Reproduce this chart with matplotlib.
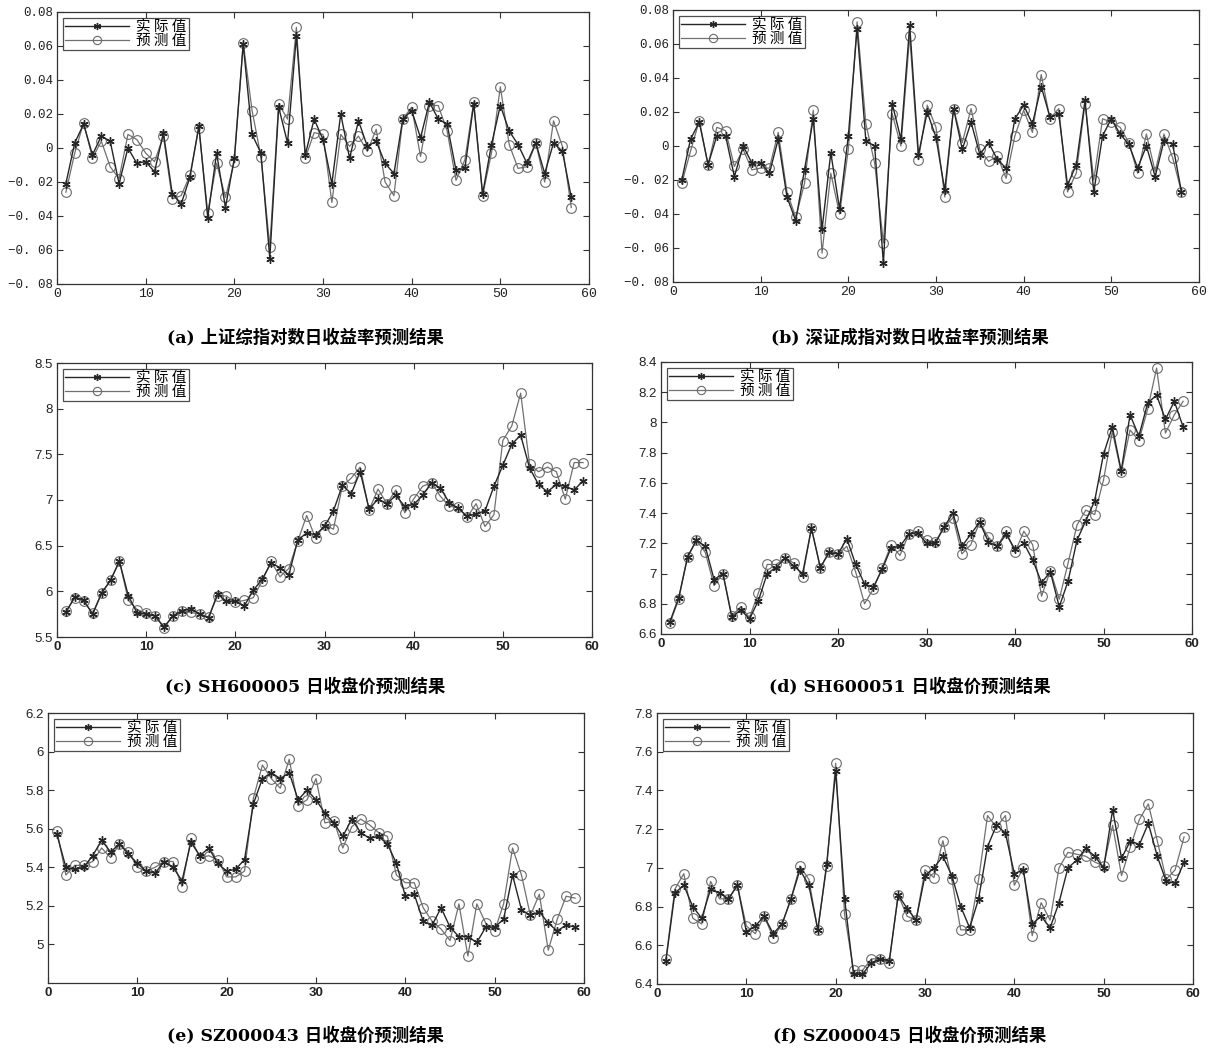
import matplotlib
matplotlib.use("Agg")
import matplotlib.pyplot as plt
import numpy as np

plt.rcParams['font.family'] = ['Liberation Sans', 'Noto Sans CJK SC']

# ---------------- data ----------------
a_actual = [-0.021, 0.003, 0.014, -0.004, 0.007, 0.004, -0.021, 0.000, -0.009, -0.008,
            -0.014, 0.009, -0.027, -0.033, -0.017, 0.013, -0.041, -0.003, -0.035, -0.006,
            0.061, 0.008, -0.003, -0.065, 0.024, 0.003, 0.066, -0.004, 0.017, 0.005,
            -0.021, 0.020, -0.006, 0.016, 0.001, 0.004, -0.009, -0.015, 0.017, 0.022,
            0.006, 0.027, 0.017, 0.014, -0.013, -0.012, 0.026, -0.027, 0.002, 0.025,
            0.010, 0.002, -0.009, 0.003, -0.015, 0.003, -0.002, -0.029]
a_pred = [-0.026, -0.003, 0.015, -0.006, 0.004, -0.011, -0.018, 0.008, 0.005, -0.003,
          -0.008, 0.007, -0.030, -0.028, -0.016, 0.012, -0.038, -0.009, -0.029, -0.008,
          0.062, 0.022, -0.005, -0.058, 0.026, 0.017, 0.071, -0.006, 0.009, 0.008,
          -0.032, 0.008, 0.001, 0.007, -0.002, 0.011, -0.020, -0.028, 0.017, 0.024,
          -0.005, 0.025, 0.025, 0.010, -0.019, -0.007, 0.027, -0.028, -0.003, 0.036,
          0.002, -0.012, -0.011, 0.003, -0.020, 0.016, 0.001, -0.035]

b_actual = [-0.020, 0.004, 0.014, -0.011, 0.006, 0.006, -0.018, 0.000, -0.010, -0.010,
            -0.016, 0.004, -0.030, -0.044, -0.014, 0.016, -0.049, -0.004, -0.037, 0.006,
            0.069, 0.003, 0.000, -0.069, 0.025, 0.004, 0.071, -0.005, 0.020, 0.005,
            -0.026, 0.022, -0.002, 0.014, -0.005, 0.002, -0.008, -0.013, 0.016, 0.024,
            0.013, 0.035, 0.017, 0.019, -0.023, -0.011, 0.027, -0.027, 0.006, 0.016,
            0.007, 0.001, -0.013, 0.000, -0.018, 0.003, 0.001, -0.027]
b_pred = [-0.022, -0.003, 0.015, -0.011, 0.011, 0.009, -0.012, -0.002, -0.014, -0.013,
          -0.013, 0.008, -0.027, -0.042, -0.022, 0.021, -0.063, -0.016, -0.040, -0.002,
          0.073, 0.013, -0.010, -0.057, 0.019, 0.000, 0.065, -0.008, 0.024, 0.011,
          -0.030, 0.022, 0.002, 0.022, -0.002, -0.009, -0.006, -0.019, 0.006, 0.021,
          0.008, 0.042, 0.016, 0.022, -0.027, -0.016, 0.025, -0.020, 0.016, 0.014,
          0.011, 0.002, -0.016, 0.007, -0.015, 0.007, -0.007, -0.027]

c_actual = [5.77, 5.94, 5.90, 5.75, 5.98, 6.12, 6.33, 5.95, 5.76, 5.75,
            5.73, 5.61, 5.73, 5.79, 5.81, 5.75, 5.71, 5.97, 5.89, 5.89,
            5.84, 6.01, 6.13, 6.31, 6.26, 6.18, 6.56, 6.64, 6.62, 6.71,
            6.88, 7.16, 7.07, 7.31, 6.90, 7.01, 6.96, 7.05, 6.93, 6.95,
            7.05, 7.19, 7.13, 6.97, 6.91, 6.82, 6.85, 6.88, 7.15, 7.38,
            7.61, 7.71, 7.35, 7.17, 7.09, 7.17, 7.15, 7.11, 7.21]
c_pred = [5.78, 5.93, 5.89, 5.76, 5.98, 6.12, 6.33, 5.90, 5.80, 5.76,
          5.73, 5.60, 5.73, 5.78, 5.77, 5.75, 5.72, 5.95, 5.95, 5.88,
          5.90, 5.93, 6.11, 6.33, 6.16, 6.25, 6.55, 6.83, 6.58, 6.73,
          6.68, 7.15, 7.24, 7.36, 6.89, 7.12, 6.96, 7.11, 6.86, 7.01,
          7.15, 7.19, 7.04, 6.93, 6.92, 6.81, 6.96, 6.71, 6.84, 7.65,
          7.81, 8.17, 7.39, 7.31, 7.36, 7.31, 7.01, 7.41, 7.41]

d_actual = [6.68, 6.84, 7.11, 7.22, 7.18, 6.96, 7.00, 6.71, 6.76, 6.70,
            6.82, 7.00, 7.04, 7.10, 7.05, 7.00, 7.30, 7.04, 7.14, 7.13,
            7.23, 7.06, 6.93, 6.91, 7.03, 7.17, 7.18, 7.26, 7.27, 7.20,
            7.20, 7.31, 7.40, 7.18, 7.26, 7.34, 7.21, 7.18, 7.26, 7.16,
            7.20, 7.09, 6.94, 7.01, 6.78, 6.95, 7.22, 7.35, 7.48, 7.79,
            7.97, 7.68, 8.05, 7.91, 8.13, 8.18, 8.02, 8.14, 7.97]
d_pred = [6.67, 6.83, 7.11, 7.22, 7.14, 6.92, 7.00, 6.72, 6.78, 6.71,
          6.87, 7.06, 7.06, 7.10, 7.07, 6.98, 7.30, 7.04, 7.14, 7.13,
          7.18, 7.01, 6.80, 6.90, 7.04, 7.19, 7.12, 7.26, 7.28, 7.22,
          7.21, 7.31, 7.37, 7.13, 7.19, 7.34, 7.24, 7.18, 7.28, 7.14,
          7.28, 7.19, 6.85, 7.02, 6.83, 7.07, 7.32, 7.42, 7.39, 7.62,
          7.94, 7.67, 7.95, 7.88, 8.09, 8.36, 7.93, 8.05, 8.14]

e_actual = [5.57, 5.40, 5.39, 5.40, 5.46, 5.54, 5.48, 5.52, 5.47, 5.42,
            5.38, 5.37, 5.43, 5.40, 5.33, 5.53, 5.46, 5.50, 5.42, 5.38,
            5.39, 5.44, 5.73, 5.86, 5.89, 5.86, 5.89, 5.75, 5.80, 5.75,
            5.68, 5.63, 5.56, 5.65, 5.58, 5.55, 5.56, 5.52, 5.42, 5.25,
            5.26, 5.12, 5.10, 5.19, 5.09, 5.04, 5.04, 5.01, 5.09, 5.09,
            5.13, 5.36, 5.18, 5.15, 5.17, 5.11, 5.07, 5.10, 5.09]
e_pred = [5.59, 5.36, 5.41, 5.41, 5.43, 5.50, 5.45, 5.52, 5.48, 5.40,
          5.38, 5.40, 5.43, 5.43, 5.30, 5.55, 5.45, 5.46, 5.44, 5.35,
          5.35, 5.38, 5.76, 5.93, 5.86, 5.81, 5.96, 5.72, 5.75, 5.86,
          5.63, 5.64, 5.50, 5.61, 5.65, 5.62, 5.58, 5.56, 5.36, 5.32,
          5.32, 5.19, 5.12, 5.08, 5.02, 5.21, 4.94, 5.21, 5.11, 5.07,
          5.21, 5.50, 5.36, 5.15, 5.26, 4.97, 5.13, 5.25, 5.24]

f_actual = [6.52, 6.87, 6.91, 6.80, 6.74, 6.89, 6.87, 6.84, 6.91, 6.67,
            6.70, 6.75, 6.66, 6.71, 6.84, 6.99, 6.91, 6.68, 7.02, 7.50,
            6.84, 6.45, 6.45, 6.51, 6.53, 6.52, 6.86, 6.79, 6.73, 6.96,
            7.00, 7.06, 6.96, 6.80, 6.69, 6.84, 7.11, 7.22, 7.18, 6.97,
            6.99, 6.71, 6.75, 6.69, 6.82, 7.00, 7.04, 7.10, 7.06, 7.00,
            7.30, 7.05, 7.14, 7.12, 7.23, 7.06, 6.93, 6.92, 7.03]
f_pred = [6.53, 6.89, 6.97, 6.74, 6.71, 6.93, 6.84, 6.84, 6.91, 6.70,
          6.66, 6.75, 6.64, 6.71, 6.84, 7.01, 6.94, 6.68, 7.01, 7.54,
          6.76, 6.47, 6.47, 6.53, 6.53, 6.51, 6.86, 6.75, 6.73, 6.99,
          6.95, 7.14, 6.94, 6.68, 6.68, 6.94, 7.27, 7.21, 7.27, 6.91,
          7.00, 6.65, 6.82, 6.73, 7.00, 7.08, 7.07, 7.06, 7.03, 7.01,
          7.22, 6.96, 7.11, 7.25, 7.33, 7.14, 6.94, 6.99, 7.16]

titles = ["(a) 上证综指对数日收益率预测结果", "(b) 深证成指对数日收益率预测结果",
          "(c) SH600005 日收盘价预测结果", "(d) SH600051 日收盘价预测结果",
          "(e) SZ000043 日收盘价预测结果", "(f) SZ000045 日收盘价预测结果"]
legend_labels = ["实际值", "预测值"]

ret_ticks = [-0.08, -0.06, -0.04, -0.02, 0, 0.02, 0.04, 0.06, 0.08]
ret_ticklabels = ["−0. 08", "−0. 06", "−0. 04", "−0. 02", "0", "0.02", "0.04", "0.06", "0.08"]
c_ticks = [5.5, 6, 6.5, 7, 7.5, 8, 8.5]
d_ticks = [6.6, 6.8, 7, 7.2, 7.4, 7.6, 7.8, 8, 8.2, 8.4]
e_ticks = [5, 5.2, 5.4, 5.6, 5.8, 6, 6.2]
f_ticks = [6.4, 6.6, 6.8, 7, 7.2, 7.4, 7.6, 7.8]
x_ticks = [0, 10, 20, 30, 40, 50, 60]

# ---------------- layout ----------------
W, H = 1210, 1051
fig = plt.figure(figsize=(W / 100, H / 100), dpi=100)


def rect(l, r, t, b):
    return [l / W, 1 - b / H, (r - l) / W, (b - t) / H]


panels = [
    (a_actual, a_pred, rect(57, 589, 12, 284), (-0.08, 0.08), ret_ticks, ret_ticklabels, True),
    (b_actual, b_pred, rect(673, 1199, 10, 282), (-0.08, 0.08), ret_ticks, ret_ticklabels, True),
    (c_actual, c_pred, rect(57, 592, 363, 637), (5.5, 8.5), c_ticks, None, False),
    (d_actual, d_pred, rect(661, 1192, 362, 634), (6.6, 8.4), d_ticks, None, False),
    (e_actual, e_pred, rect(48, 584, 713, 983), (4.8, 6.2), e_ticks, None, False),
    (f_actual, f_pred, rect(657, 1193, 713, 984), (6.4, 7.8), f_ticks, None, False),
]
title_pos = [(305, 337), (910, 337), (305, 686), (910, 686), (305, 1035), (910, 1035)]

asterisk = (6, 2, 0)

for (act, pred, r, ylim, yt, ytl, mono), ttl, (tx, ty) in zip(panels, titles, title_pos):
    ax = fig.add_axes(r)
    x = np.arange(1, len(act) + 1)
    ax.plot(x, act, color='#262626', lw=1.0, marker=asterisk, ms=6, mec='#262626', mew=1.0,
            label=legend_labels[0], zorder=3)
    ax.plot(x, pred, color='#707070', lw=0.9, marker='o', ms=7, mec='#6a6a6a', mfc='none',
            mew=0.8, label=legend_labels[1], zorder=2)
    ax.set_xlim(0, 60)
    ax.set_ylim(*ylim)
    ax.set_xticks(x_ticks)
    ax.set_yticks(yt)
    if ytl is not None:
        ax.set_yticklabels(ytl, family='Liberation Mono', fontsize=9)
    else:
        ax.set_yticklabels([('%g' % v) for v in yt], fontsize=9.5)
    ax.set_xticklabels([str(v) for v in x_ticks], fontsize=9.5,
                       fontweight='normal' if mono else 'bold',
                       family='Liberation Mono' if mono else 'Liberation Sans')
    ax.tick_params(direction='in', top=True, right=True, length=4, width=0.8, pad=3, colors='#333333',
                   labelcolor='#222222')
    for s in ax.spines.values():
        s.set_linewidth(0.9)
        s.set_color('#333333')
    leg = ax.legend(loc='upper left', frameon=True, fancybox=False, handlelength=4.4,
                    borderpad=0.15, labelspacing=0.0, handletextpad=0.5, borderaxespad=0.4,
                    markerscale=0.85, prop={'family': ['Noto Sans CJK SC'], 'size': 10.5})
    for t in leg.get_texts():
        t.set_text(' '.join(t.get_text()))
    leg.get_frame().set_edgecolor('#222222')
    leg.get_frame().set_linewidth(0.9)
    fig.text(tx / W, 1 - ty / H, ttl, ha='center', va='center', fontsize=12.5, fontweight='bold',
             family=['DejaVu Serif', 'Noto Sans CJK SC'])

fig.savefig('out.png', dpi=100)
